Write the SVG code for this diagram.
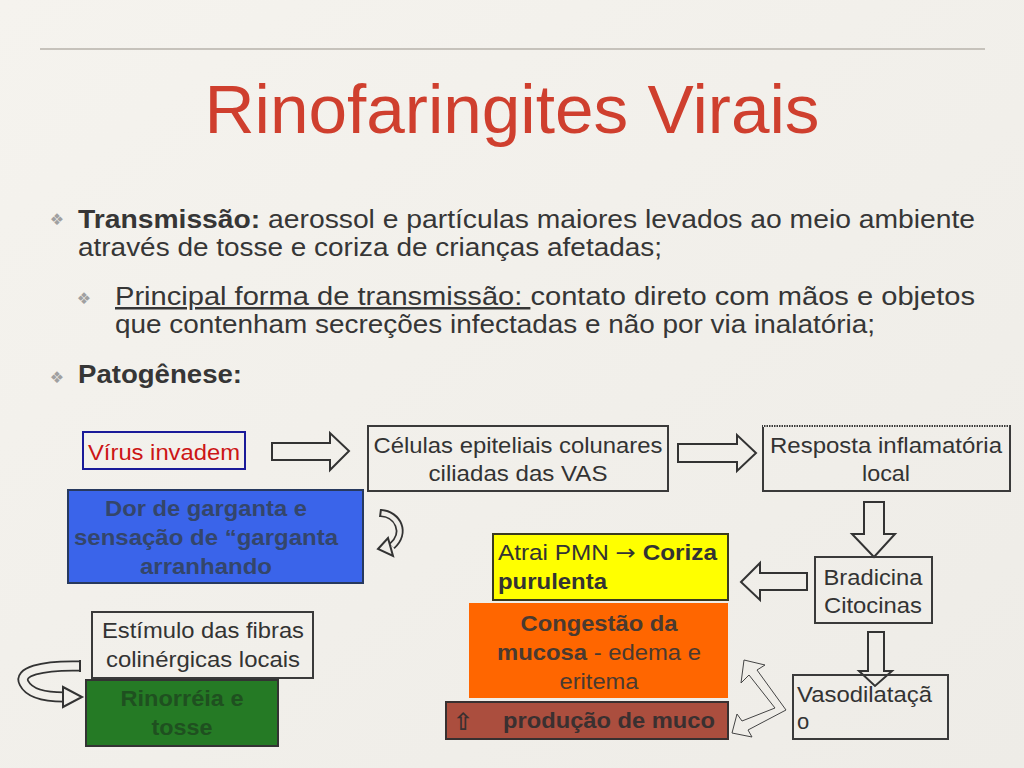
<svg xmlns="http://www.w3.org/2000/svg" width="1024" height="768" viewBox="0 0 1024 768">
<defs>
<linearGradient id="bg" x1="0" y1="0" x2="1" y2="1">
<stop offset="0" stop-color="#f5f3ee"/>
<stop offset="1" stop-color="#eeece7"/>
</linearGradient>
<style>
text{font-family:"Liberation Sans",Arial,"DejaVu Sans",sans-serif}
.body{font-size:25px;fill:#363636}
.bul{font-family:"DejaVu Sans",sans-serif;font-size:16px;fill:#a0a0a0}
.t{font-size:22px;fill:#333333}
.b{font-weight:bold}
.box{fill:none;stroke:#3a3a3a;stroke-width:2}
.arr{fill:none;stroke:#333333;stroke-width:2;stroke-linejoin:miter}
</style>
</defs>
<rect width="1024" height="768" fill="url(#bg)"/>
<line x1="40" y1="49" x2="985" y2="49" stroke="#c6c2bb" stroke-width="2"/>
<text x="512" y="133" text-anchor="middle" font-size="68" fill="#cf3f2e" textLength="615" lengthAdjust="spacingAndGlyphs">Rinofaringites Virais</text>

<g id="bullets">
<text class="bul" x="57" y="225" text-anchor="middle">❖</text>
<text class="bul" x="84" y="304" text-anchor="middle">❖</text>
<text class="bul" x="57" y="383" text-anchor="middle">❖</text>
<text class="body" x="78" y="228" textLength="897" lengthAdjust="spacingAndGlyphs"><tspan class="b">Transmissão:</tspan> aerossol e partículas maiores levados ao meio ambiente</text>
<text class="body" x="78" y="256" textLength="584" lengthAdjust="spacingAndGlyphs">através de tosse e coriza de crianças afetadas;</text>
<text class="body" x="115" y="305" textLength="860" lengthAdjust="spacingAndGlyphs"><tspan text-decoration="underline">Principal forma de transmissão: </tspan>contato direto com mãos e objetos</text>
<text class="body" x="115" y="333" textLength="760" lengthAdjust="spacingAndGlyphs">que contenham secreções infectadas e não por via inalatória;</text>
<text class="body b" x="78" y="383" textLength="164" lengthAdjust="spacingAndGlyphs">Patogênese:</text>
</g>

<g id="connectors">
<polygon class="arr" points="272,443 330,443 330,433 349,451 330,470 330,460 272,460"/>
<polygon class="arr" points="678,444 737,444 737,435 756,453 737,471 737,462 678,462"/>
<polygon class="arr" points="864,502 884,502 884,534 895,534 874,557 852,534 864,534"/>
<polygon class="arr" points="807,573 807,590 760,590 760,600 741,582 760,563 760,573"/>
<polygon class="arr" points="868,632 884,632 884,671 892,671 875,686 859,671 868,671"/>
<g id="curve1">
<path d="M381,513 C398,514 407,533 392,546" fill="none" stroke="#333" stroke-width="8"/>
<path d="M380,513 C398,514 407,533 392,546" fill="none" stroke="#efede8" stroke-width="4.5"/>
<line x1="381" y1="509" x2="380" y2="517" stroke="#333" stroke-width="2"/>
<polygon points="378,549 388,538 393,556" fill="#efede8" stroke="#333" stroke-width="2" stroke-linejoin="miter"/>
</g>
<g id="loop">
<path d="M80,666 C40,665 18,672 24,683 C29,693 45,697 64,697" fill="none" stroke="#333" stroke-width="11"/>
<path d="M81,666 C40,665 18,672 24,683 C29,693 45,697 64,697" fill="none" stroke="#f1efea" stroke-width="7.5"/>
<line x1="80" y1="660" x2="80" y2="672" stroke="#333" stroke-width="2"/>
<polygon points="63,687 82,697 63,707" fill="#f1efea" stroke="#333" stroke-width="2"/>
</g>
<polygon points="744,660 765,665 757,670 786,710 748,730 752,737 732,733 737,714 742,721 775,708 749,675 741,683" fill="none" stroke="#444" stroke-width="1"/>
</g>

<g id="n-virus">
<rect x="83" y="432" width="162" height="37" fill="none" stroke="#1a1a99" stroke-width="2"/>
<text class="t" x="164" y="460" text-anchor="middle" style="fill:#cc1515" textLength="152" lengthAdjust="spacingAndGlyphs">Vírus invadem</text>
</g>
<g id="n-celulas">
<rect class="box" x="368" y="426" width="300" height="65"/>
<text class="t" x="518" y="453" text-anchor="middle" textLength="289" lengthAdjust="spacingAndGlyphs">Células epiteliais colunares</text>
<text class="t" x="518" y="481" text-anchor="middle" textLength="179" lengthAdjust="spacingAndGlyphs">ciliadas das VAS</text>
</g>
<g id="n-resposta">
<rect x="763" y="426" width="247" height="65" fill="none" stroke="#3a3a3a" stroke-width="2"/>
<line x1="763" y1="426" x2="1010" y2="426" stroke="#f1efea" stroke-width="2" stroke-dasharray="1,1.5"/>
<text class="t" x="886" y="453" text-anchor="middle" textLength="232" lengthAdjust="spacingAndGlyphs">Resposta inflamatória</text>
<text class="t" x="886" y="481" text-anchor="middle" textLength="48" lengthAdjust="spacingAndGlyphs">local</text>
</g>
<g id="n-dor">
<rect x="68" y="490" width="295" height="93" fill="#3a64ea" stroke="#27395e" stroke-width="2"/>
<text class="t b" x="206" y="516" text-anchor="middle" style="fill:#34466a" textLength="202" lengthAdjust="spacingAndGlyphs">Dor de garganta e</text>
<text class="t b" x="206" y="545" text-anchor="middle" style="fill:#34466a" textLength="264" lengthAdjust="spacingAndGlyphs">sensação de “garganta</text>
<text class="t b" x="206" y="574" text-anchor="middle" style="fill:#34466a" textLength="132" lengthAdjust="spacingAndGlyphs">arranhando</text>
</g>
<g id="n-bradicina">
<rect class="box" x="815" y="557" width="117" height="66"/>
<text class="t" x="873" y="585" text-anchor="middle" textLength="99" lengthAdjust="spacingAndGlyphs">Bradicina</text>
<text class="t" x="873" y="613" text-anchor="middle" textLength="98" lengthAdjust="spacingAndGlyphs">Citocinas</text>
</g>
<g id="n-atrai">
<rect x="493" y="534" width="235" height="66" fill="#ffff00" stroke="#3a3a20" stroke-width="2"/>
<text class="t" x="498" y="560" textLength="219" lengthAdjust="spacingAndGlyphs">Atrai PMN <tspan style="font-family:'DejaVu Sans',sans-serif">→</tspan> <tspan class="b">Coriza</tspan></text>
<text class="t b" x="498" y="589" textLength="109" lengthAdjust="spacingAndGlyphs">purulenta</text>
</g>
<g id="n-congestao">
<rect x="469" y="603" width="259" height="95" fill="#ff6600"/>
<text class="t b" x="599" y="631" text-anchor="middle" style="fill:#4a3a30" textLength="157" lengthAdjust="spacingAndGlyphs">Congestão da</text>
<text class="t" x="599" y="660" text-anchor="middle" style="fill:#4a3a30" textLength="204" lengthAdjust="spacingAndGlyphs"><tspan class="b">mucosa</tspan> - edema e</text>
<text class="t" x="599" y="689" text-anchor="middle" style="fill:#4a3a30" textLength="79" lengthAdjust="spacingAndGlyphs">eritema</text>
</g>
<g id="n-producao">
<rect x="446" y="702" width="282" height="37" fill="#ab4e3e" stroke="#383030" stroke-width="2"/>
<text x="463" y="730" text-anchor="middle" style="fill:#3a3030;font-family:'DejaVu Sans',sans-serif;font-size:24px;font-weight:bold">⇧</text>
<text class="t b" x="503" y="728" style="fill:#3a3030" textLength="212" lengthAdjust="spacingAndGlyphs">produção de muco</text>
</g>
<g id="n-estimulo">
<rect class="box" x="92" y="612" width="221" height="66"/>
<text class="t" x="203" y="638" text-anchor="middle" textLength="202" lengthAdjust="spacingAndGlyphs">Estímulo das fibras</text>
<text class="t" x="203" y="667" text-anchor="middle" textLength="194" lengthAdjust="spacingAndGlyphs">colinérgicas locais</text>
</g>
<g id="n-rinorreia">
<rect x="86" y="680" width="192" height="66" fill="#257a25" stroke="#333" stroke-width="2"/>
<text class="t b" x="182" y="706" text-anchor="middle" style="fill:#1f5020" textLength="123" lengthAdjust="spacingAndGlyphs">Rinorréia e</text>
<text class="t b" x="182" y="735" text-anchor="middle" style="fill:#1f5020" textLength="61" lengthAdjust="spacingAndGlyphs">tosse</text>
</g>
<g id="n-vaso">
<rect class="box" x="793" y="675" width="155" height="64"/>
<text class="t" x="797" y="702" textLength="135" lengthAdjust="spacingAndGlyphs">Vasodilataçã</text>
<text class="t" x="797" y="729">o</text>
</g>
</svg>
